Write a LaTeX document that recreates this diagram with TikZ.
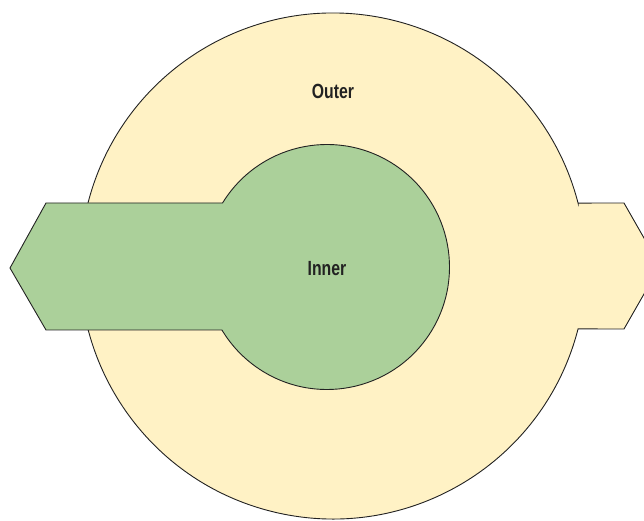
\documentclass[tikz,border=0pt]{standalone}
\usepackage{fontspec}
\newfontfamily\condfont{Liberation Sans}[FakeStretch=0.77]
\definecolor{outerfill}{HTML}{FFF2C5}
\definecolor{innerfill}{HTML}{ABD09A}
\definecolor{edge}{HTML}{222222}
\begin{document}
\begin{tikzpicture}[x=1pt,y=1pt,
  region/.style={draw=edge,line width=0.9pt,line join=miter},
  lbl/.style={font=\condfont\bfseries\fontsize{20.5}{24}\selectfont,text=edge,inner sep=0pt}]
\useasboundingbox (0,0) rectangle (644,521);
\clip (0,0) rectangle (644,521);
% outer region: circle with right tab
\path[region,fill=outerfill] (578.05,317.92) -- (624,318) -- (660,255) -- (624,192) -- (578.05,192.08)
  arc[start angle=-14.4,end angle=-345.6,radius=253] -- cycle;
% inner region: circle with left tab
\path[region,fill=innerfill] (46,318) -- (222.55,318)
  arc[start angle=148.5,end angle=-149.05,radius=122.5]
  -- (46,191) -- (10,253) -- cycle;
\node[lbl] (outer) at (333,430) {Outer};
\node[lbl] (inner) at (327,252) {Inner};
\end{tikzpicture}
\end{document}
